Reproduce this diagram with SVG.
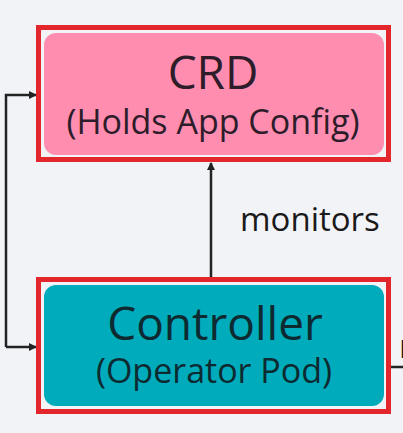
<svg xmlns="http://www.w3.org/2000/svg" width="403" height="433" viewBox="0 0 403 433">
  <defs>
    <style>
      .frame { fill: none; stroke: #e3262b; stroke-width: 5; }
      .title { font-family: "Open Sans", "Noto Sans", sans-serif; font-size: 46px; text-anchor: middle; }
      .sub { font-family: "Open Sans", "Noto Sans", sans-serif; font-size: 34px; text-anchor: middle; }
      .lbl { font-family: "Open Sans", "Noto Sans", sans-serif; font-size: 33px; fill: #1a1a1a; }
      .conn { fill: none; stroke: #222; stroke-width: 2.5; }
    </style>
    <marker id="arr" markerWidth="8" markerHeight="8" refX="7" refY="4" orient="auto" markerUnits="userSpaceOnUse">
      <path d="M0,0 L8,4 L0,8 Z" fill="#222"/>
    </marker>
  </defs>
  <rect width="403" height="433" fill="#f2f3f7"/>

  <g id="connectors">
    <path class="conn" d="M6,347 L6,95 L36,95" marker-end="url(#arr)"/>
    <path class="conn" d="M6,347 L36,347" marker-end="url(#arr)"/>
    <path class="conn" d="M211,278 L211,163" marker-end="url(#arr)"/>
    <path class="conn" d="M389,367 L403,367"/>
    <text class="lbl" x="240" y="231">monitors</text>
    <text class="lbl" x="399" y="358">m</text>
  </g>

  <g id="crd">
    <rect x="38.5" y="27.5" width="350" height="132" class="frame"/>
    <rect x="44" y="33" width="340" height="122" rx="12" fill="#ff8db0"/>
    <text class="title" x="213" y="89" fill="#2d1c2a">CRD</text>
    <text class="sub" x="213" y="134" fill="#2d1c2a">(Holds App Config)</text>
  </g>

  <g id="controller">
    <rect x="38.5" y="279.5" width="350" height="132" class="frame"/>
    <rect x="44" y="285" width="340" height="121" rx="12" fill="#00abbb"/>
    <text class="title" x="215" y="340" fill="#0d2a30">Controller</text>
    <text class="sub" x="214" y="383" fill="#0d2a30">(Operator Pod)</text>
  </g>
</svg>
